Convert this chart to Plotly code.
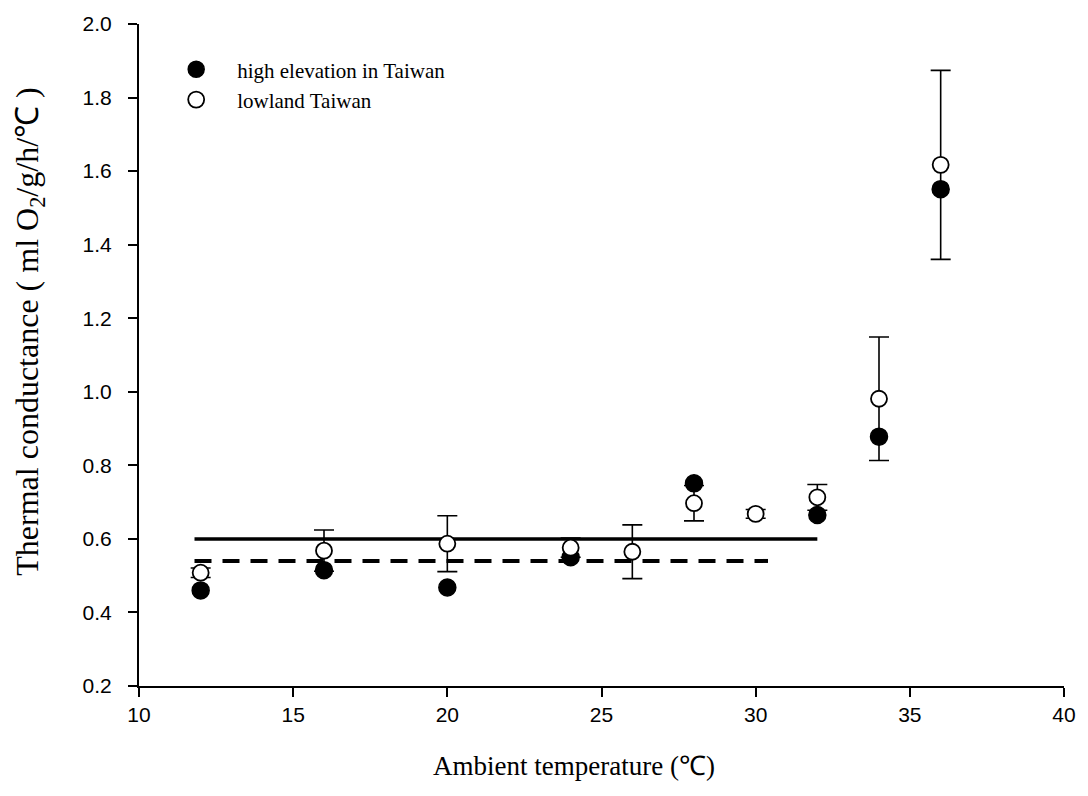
import plotly.graph_objects as go

# Data
temps = [12, 16, 20, 24, 28, 32, 34, 36]
high_vals = [0.46, 0.515, 0.468, 0.55, 0.751, 0.665, 0.878, 1.551]

low_temps = [12, 16, 20, 24, 26, 28, 30, 32, 34, 36]
low_vals = [0.508, 0.568, 0.587, 0.576, 0.565, 0.697, 0.668, 0.713, 0.981, 1.617]
low_err = [0.013, 0.056, 0.076, 0.026, 0.073, 0.048, 0.012, 0.035, 0.168, 0.257]

solid_x = [11.8, 32.0]
solid_y = [0.60, 0.60]
dash_x = [11.8, 30.4]
dash_y = [0.54, 0.54]

x_ticks = [10, 15, 20, 25, 30, 35, 40]
y_ticks = [0.2, 0.4, 0.6, 0.8, 1.0, 1.2, 1.4, 1.6, 1.8, 2.0]

x_title = "Ambient temperature (℃)"
y_title = "Thermal conductance ( ml O<sub>2</sub>/g/h/℃ )"

fig = go.Figure()

fig.add_trace(go.Scatter(x=solid_x, y=solid_y, mode="lines",
                         line=dict(color="black", width=3.5), showlegend=False, hoverinfo="skip"))
fig.add_trace(go.Scatter(x=dash_x, y=dash_y, mode="lines",
                         line=dict(color="black", width=4, dash="17px,11px"), showlegend=False, hoverinfo="skip"))

# error bars of the lowland series drawn underneath all markers
fig.add_trace(go.Scatter(x=low_temps, y=low_vals, mode="markers",
                         marker=dict(size=1, opacity=0),
                         error_y=dict(type="data", array=low_err, color="black", thickness=1.6, width=10),
                         showlegend=False, hoverinfo="skip"))

fig.add_trace(go.Scatter(x=temps, y=high_vals, mode="markers", name="high elevation in Taiwan",
                         marker=dict(symbol="circle", size=17, color="black", line=dict(color="black", width=1.5))))
fig.add_trace(go.Scatter(x=low_temps, y=low_vals, mode="markers", name="lowland Taiwan",
                         marker=dict(symbol="circle", size=16, color="white", line=dict(color="black", width=1.8))))

serif = "Liberation Serif, Times New Roman"

fig.update_layout(
    width=1088, height=796,
    margin=dict(l=139, r=21, t=19, b=110),
    paper_bgcolor="white", plot_bgcolor="white",
    font=dict(family="Liberation Sans, Arial", color="black", size=21),
    legend=dict(x=0.0175, y=0.962, xanchor="left", yanchor="top",
                bgcolor="rgba(0,0,0,0)", borderwidth=0,
                font=dict(family=serif, size=21),
                itemsizing="trace", itemwidth=72, tracegroupgap=2),
    xaxis=dict(range=[10, 40], tickvals=x_ticks, ticktext=[str(v) for v in x_ticks],
               showgrid=False, zeroline=False, showline=True, linecolor="black", linewidth=2,
               ticks="outside", ticklen=9, tickwidth=2, tickcolor="black",
               tickfont=dict(family="Liberation Sans, Arial", size=21)),
    yaxis=dict(range=[0.2, 2.0], tickvals=y_ticks, ticktext=[f"{v:.1f}" for v in y_ticks],
               showgrid=False, zeroline=False, showline=True, linecolor="black", linewidth=2,
               ticks="outside", ticklen=9, tickwidth=2, tickcolor="black",
               ticklabelstandoff=12,
               tickfont=dict(family="Liberation Sans, Arial", size=21)),
    annotations=[
        dict(text=x_title, xref="paper", yref="paper", x=0.47, y=-0.121,
             xanchor="center", yanchor="middle", showarrow=False,
             font=dict(family=serif, size=27, color="black")),
        dict(text=y_title, xref="paper", yref="paper", x=-0.118, y=0.535,
             xanchor="center", yanchor="middle", showarrow=False, textangle=-90,
             font=dict(family=serif, size=32, color="black")),
    ],
)

fig.write_html("out.html")
